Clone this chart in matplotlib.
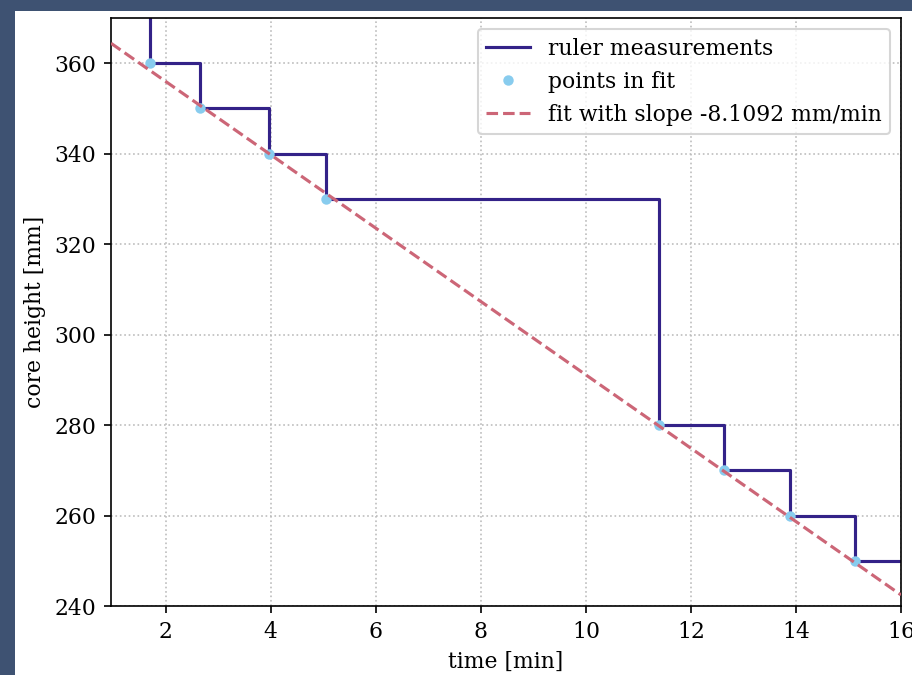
import numpy as np
import matplotlib
matplotlib.use("Agg")
import matplotlib.pyplot as plt
from matplotlib.patches import Rectangle

# ruler readings (time in min, core height in mm)
ruler_time = [0.0, 1.70, 2.65, 3.97, 5.05, 11.40, 12.63, 13.89, 15.13, 17.0]
ruler_height = [380, 360, 350, 340, 330, 280, 270, 260, 250, 250]

# points used for the fit
fit_time = [1.70, 2.65, 3.97, 5.05, 11.40, 12.63, 13.89, 15.13]
fit_height = [360, 350, 340, 330, 280, 270, 260, 250]

slope = -8.1092
intercept = 372.2
xlims = [0.96, 16.0]
ylims = [240, 370]

plt.rcParams['font.family'] = ['DejaVu Serif']
plt.rcParams['font.size'] = 10.5

fig = plt.figure(figsize=(912 / 150, 675 / 150), dpi=150)
fig.patch.set_facecolor('#3e5272')
# white panel of the (cropped) figure
fig.add_artist(Rectangle((15 / 912, 0), 1.0, 1 - 11 / 675,
                         transform=fig.transFigure, facecolor='white',
                         edgecolor='none', zorder=-10))

ax = fig.add_axes([111 / 912, 1 - 606 / 675, 790 / 912, 588 / 675])

ax.step(ruler_time, ruler_height, where='post', color='#332288',
        lw=1.5, label='ruler measurements')
ax.plot(fit_time, fit_height, 'o', color='#88CCEE', markersize=4,
        label='points in fit', zorder=3)
xf = np.array(xlims)
ax.plot(xf, slope * xf + intercept, '--', color='#CC6677', lw=1.5,
        label=f'fit with slope {slope} mm/min', zorder=4)

ax.set_xlim(xlims)
ax.set_ylim(ylims)
ax.set_xticks([2, 4, 6, 8, 10, 12, 14, 16])
ax.set_yticks([240, 260, 280, 300, 320, 340, 360])
ax.grid(True, ls=':', color='#bdbdbd', lw=0.8)
ax.set_xlabel('time [min]')
ax.set_ylabel('core height [mm]')
ax.legend(loc='upper right', labelspacing=0.5)

fig.savefig('out.png', dpi=150, facecolor=fig.get_facecolor())
